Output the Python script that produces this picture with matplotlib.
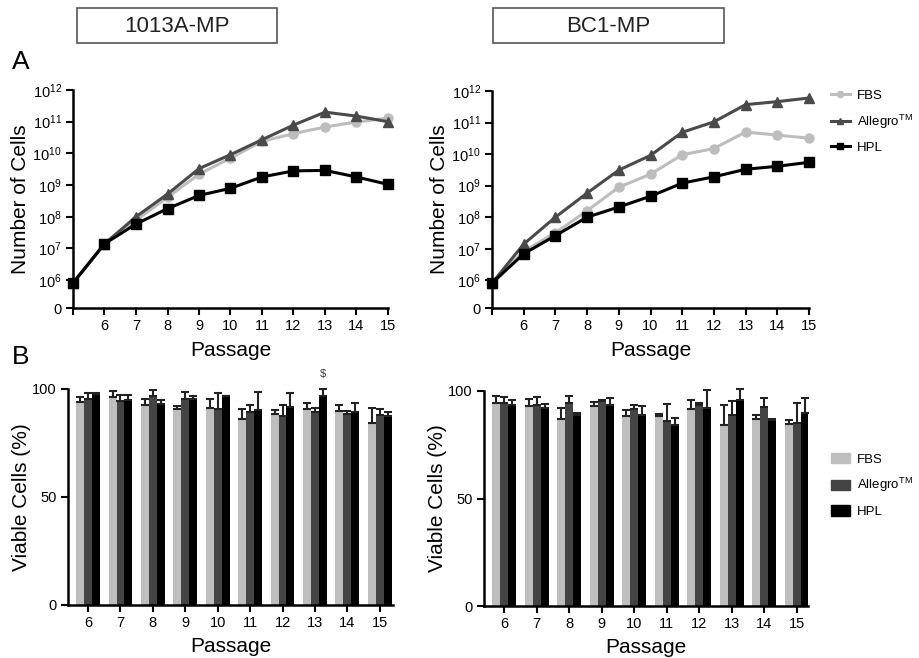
import numpy as np
import matplotlib.pyplot as plt
from matplotlib.patches import Rectangle, Patch
from matplotlib.lines import Line2D

plt.rcParams['font.family'] = ['Liberation Sans', 'DejaVu Sans']
plt.rcParams['mathtext.default'] = 'regular'

# ---- data ----
passage_growth = [5, 6, 7, 8, 9, 10, 11, 12, 13, 14, 15]
passage_viab = [6, 7, 8, 9, 10, 11, 12, 13, 14, 15]

# cumulative cell numbers, 1013A-MP
mp_fbs_cells = [8.1e5, 1.4e7, 7.8e7, 4.1e8, 2.2e9, 7.1e9, 2.4e10, 4.2e10, 6.8e10, 9.8e10, 1.3e11]
mp_allegro_cells = [8.1e5, 1.4e7, 1.0e8, 5.2e8, 3.3e9, 9.1e9, 2.7e10, 7.8e10, 2.0e11, 1.5e11, 1.0e11]
mp_hpl_cells = [8.1e5, 1.4e7, 5.9e7, 1.8e8, 4.7e8, 7.9e8, 1.8e9, 2.8e9, 2.9e9, 1.8e9, 1.05e9]

# cumulative cell numbers, BC1-MP
bc_fbs_cells = [8.1e5, 8.3e6, 3.2e7, 1.6e8, 8.9e8, 2.3e9, 9.5e9, 1.5e10, 5.0e10, 4.0e10, 3.2e10]
bc_allegro_cells = [8.1e5, 1.4e7, 1.0e8, 5.8e8, 3.1e9, 9.1e9, 4.9e10, 1.05e11, 3.7e11, 4.6e11, 6.0e11]
bc_hpl_cells = [8.1e5, 6.9e6, 2.6e7, 1.0e8, 2.1e8, 4.6e8, 1.2e9, 1.9e9, 3.3e9, 4.1e9, 5.5e9]

# viability (%), 1013A-MP
mp_fbs_viab = [94.0, 96.4, 92.6, 90.7, 91.2, 86.1, 88.3, 90.7, 89.8, 84.1]
mp_fbs_err = [2.4, 2.8, 2.6, 1.4, 4.0, 4.6, 2.0, 2.7, 2.8, 7.3]
mp_allegro_viab = [95.4, 94.4, 96.9, 95.4, 90.9, 89.2, 87.5, 89.2, 88.4, 88.0]
mp_allegro_err = [2.9, 3.0, 2.6, 3.2, 7.1, 3.4, 5.1, 1.8, 1.4, 2.6]
mp_hpl_viab = [97.5, 94.9, 93.1, 95.4, 96.9, 90.3, 91.5, 96.9, 89.2, 87.5]
mp_hpl_err = [0.5, 2.5, 1.8, 1.4, 0.0, 8.5, 6.8, 2.9, 4.5, 1.7]

# viability (%), BC1-MP
bc_fbs_viab = [94.4, 93.0, 87.2, 92.9, 88.2, 88.2, 91.5, 84.0, 87.2, 84.5]
bc_fbs_err = [3.1, 3.5, 5.1, 2.0, 3.1, 1.3, 4.2, 9.7, 1.5, 1.9]
bc_allegro_viab = [94.4, 93.3, 94.4, 95.3, 91.8, 86.0, 93.3, 88.7, 92.6, 85.1]
bc_allegro_err = [2.8, 3.9, 3.3, 0.4, 1.9, 7.8, 1.3, 6.6, 4.1, 9.3]
bc_hpl_viab = [93.3, 92.1, 88.7, 93.7, 88.7, 84.4, 92.3, 95.7, 86.4, 89.8]
bc_hpl_err = [2.4, 1.7, 1.3, 3.2, 4.2, 3.2, 8.3, 5.1, 0.4, 6.9]

series_names = ['FBS', r'Allegro$^{TM}$', 'HPL']
line_colors = ['#bdbdbd', '#4a4a4a', '#000000']
bar_colors = ['#bebebe', '#444444', '#000000']
markers = ['o', '^', 's']

W, H = 920, 658
fig = plt.figure(figsize=(W / 100, H / 100), dpi=100)


def px_axes(x0, y0, x1, y1):
    # pixel box (top-left origin) -> figure axes
    return fig.add_axes([x0 / W, 1 - y1 / H, (x1 - x0) / W, (y1 - y0) / H])


def style_axes(ax):
    for s in ['top', 'right']:
        ax.spines[s].set_visible(False)
    for s in ['left', 'bottom']:
        ax.spines[s].set_linewidth(1.8)
    ax.tick_params(width=1.5, length=5, pad=3, labelsize=10.5, colors='black')


ZERO = 5.12  # where the "0" sits on the log axis


def growth_panel(ax, cells):
    for c, col, m in zip(cells, line_colors, markers):
        ax.plot(passage_growth, np.log10(c), color=col, lw=2.2, marker=m,
                ms=6.5, clip_on=False, zorder=3)
    style_axes(ax)
    ax.set_xlim(5, 15)
    ax.set_ylim(ZERO, 12)
    ax.set_xticks(passage_growth)
    ax.set_xticklabels([''] + [str(p) for p in passage_growth[1:]])
    yt = [ZERO] + list(range(6, 13))
    ax.set_yticks(yt)
    ax.set_yticklabels(['0'] + [r'$10^{%d}$' % k for k in range(6, 13)])
    ax.set_xlabel('Passage', fontsize=15, labelpad=6)
    ax.set_ylabel('Number of Cells', fontsize=15, labelpad=2)


def viab_panel(ax, vals, errs):
    x = np.array(passage_viab)
    w = 0.245
    for i, (v, e, col) in enumerate(zip(vals, errs, bar_colors)):
        xi = x + (i - 1) * w
        ax.bar(xi, v, width=w, color=col, zorder=2)
        ax.errorbar(xi, v, yerr=[np.zeros(len(e)), e], fmt='none', ecolor='#222222',
                    elinewidth=1.5, capsize=3, capthick=1.5, clip_on=False, zorder=3)
    style_axes(ax)
    ax.set_ylim(0, 100)
    ax.set_yticks([0, 50, 100])
    ax.set_xticks(passage_viab)
    ax.set_xlabel('Passage', fontsize=15, labelpad=5)
    ax.set_ylabel('Viable Cells (%)', fontsize=15, labelpad=1)


ax1 = px_axes(73, 90, 388, 308)
growth_panel(ax1, [mp_fbs_cells, mp_allegro_cells, mp_hpl_cells])
ax2 = px_axes(492, 91, 809, 308)
growth_panel(ax2, [bc_fbs_cells, bc_allegro_cells, bc_hpl_cells])

ax3 = px_axes(68, 389, 393, 605)
viab_panel(ax3, [mp_fbs_viab, mp_allegro_viab, mp_hpl_viab],
           [mp_fbs_err, mp_allegro_err, mp_hpl_err])
ax3.set_xlim(5.38, 15.41)
ax3.text(13 + 0.245, 101.5 + mp_hpl_err[7], '$', ha='center', va='bottom',
         fontsize=8, color='#333333')

ax4 = px_axes(484, 391, 808, 606)
viab_panel(ax4, [bc_fbs_viab, bc_allegro_viab, bc_hpl_viab],
           [bc_fbs_err, bc_allegro_err, bc_hpl_err])
ax4.set_xlim(5.38, 15.35)

# legends
line_handles = [Line2D([], [], color=c, marker=m, lw=2.2, ms=4.5) for c, m in zip(line_colors, markers)]
fig.legend(line_handles, series_names, loc='upper left', bbox_to_anchor=(819 / W, 1 - 78 / H),
           frameon=False, fontsize=9.5, handlelength=1.45, labelspacing=0.8, handletextpad=0.5)
bar_handles = [Patch(color=c) for c in bar_colors]
fig.legend(bar_handles, series_names, loc='upper left', bbox_to_anchor=(819 / W, 1 - 441 / H),
           frameon=False, fontsize=9.5, handlelength=1.45, handleheight=0.85,
           labelspacing=0.8, handletextpad=0.5)

# panel letters
fig.text(12 / W, 1 - 62 / H, 'A', fontsize=19, va='center')
fig.text(12 / W, 1 - 357 / H, 'B', fontsize=19, va='center')

# boxed cell line titles
for (x0, x1), title in zip([(77, 277), (493, 724)], ['1013A-MP', 'BC1-MP']):
    fig.add_artist(Rectangle((x0 / W, 1 - 43 / H), (x1 - x0) / W, 35 / H,
                             transform=fig.transFigure, fill=False,
                             edgecolor='#555555', lw=1.2))
    fig.text((x0 + x1) / 2 / W, 1 - 26 / H, title, ha='center', va='center',
             fontsize=16, color='#222222')

fig.savefig('out.png', dpi=100)
